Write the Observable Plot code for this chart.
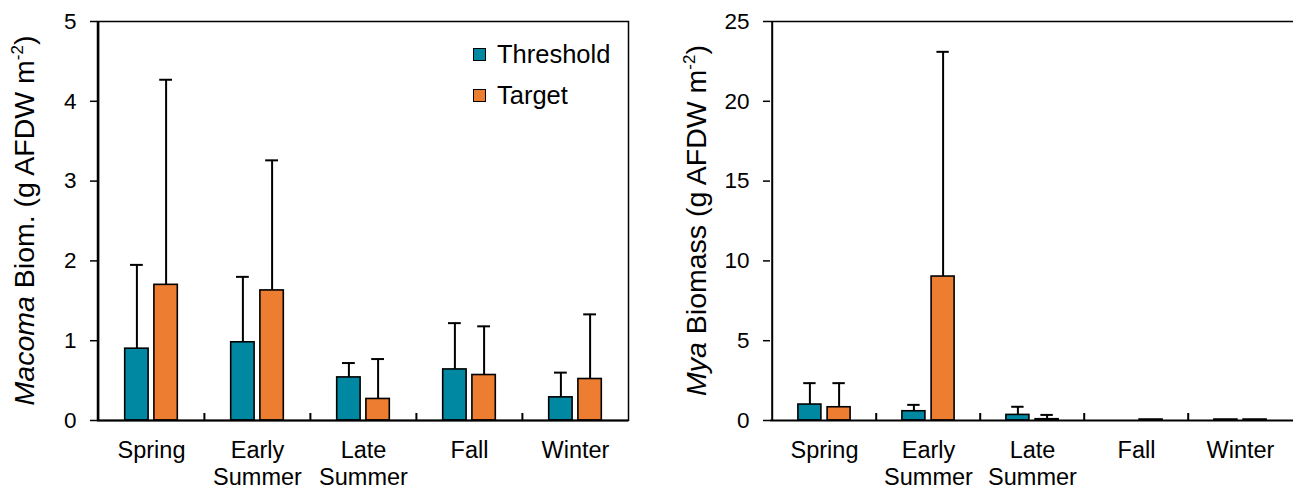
<!DOCTYPE html>
<html><head><meta charset="utf-8">
<script src="https://cdn.jsdelivr.net/npm/d3@7"></script>
<script src="https://cdn.jsdelivr.net/npm/@observablehq/plot@0.6"></script>
<style>
body{margin:0;background:#fff;font-family:Arial,"Liberation Sans",sans-serif;}
#wrap{position:relative;width:1296px;height:489px;display:flex;}
#wrap svg{display:block;}
.legend{position:absolute;left:473px;top:34px;font-size:25.5px;color:#000;}
.legend .row{display:flex;align-items:center;height:41px;}
.legend .sw{width:11px;height:11px;border:1.5px solid #000;margin-right:11px;}
</style></head><body><div id="wrap"></div>
<script>
const seasons = ["Spring","Early Summer","Late Summer","Fall","Winter"];
const seasonLabels = ["Spring","Early\nSummer","Late\nSummer","Fall","Winter"];
const series = ["Threshold","Target"];
const colors = ["#0088a3","#ed7d31"];

// Macoma biomass (g AFDW m-2): means and upper error (SD)
const macomaThreshold = [0.90, 0.98, 0.54, 0.64, 0.29];
const macomaThresholdErr = [1.05, 0.82, 0.18, 0.58, 0.31];
const macomaTarget = [1.70, 1.63, 0.27, 0.57, 0.52];
const macomaTargetErr = [2.57, 1.63, 0.50, 0.61, 0.81];

// Mya biomass (g AFDW m-2)
const myaThreshold = [1.00, 0.58, 0.35, 0.00, 0.06];
const myaThresholdErr = [1.34, 0.40, 0.51, null, null];
const myaTarget = [0.83, 9.02, 0.08, 0.06, 0.06];
const myaTargetErr = [1.51, 14.08, 0.27, null, null];

const macomaTicks = [0, 1, 2, 3, 4, 5];
const myaTicks = [0, 5, 10, 15, 20, 25];

const labelMap = Object.fromEntries(seasons.map((s, i) => [s, seasonLabels[i]]));

function chart({values, errs, ticks, width, marginLeft, marginRight, frame, labelItalic, labelRest, labelX}) {
  const height = 489, marginTop = 21, marginBottom = 69;
  const yMax = ticks[ticks.length - 1];
  const rows = [];
  seasons.forEach((s, i) => series.forEach((k, j) => rows.push({season: s, series: k, value: values[j][i], err: errs[j][i]})));
  const bw = (width - marginLeft - marginRight) / seasons.length;
  const pxPerUnit = (height - marginTop - marginBottom) / yMax;
  const off = [-14.6, 14.6];
  const half = 11.8;
  const marks = [];
  series.forEach((k, j) => {
    const d = rows.filter(r => r.series === k);
    const de = d.filter(r => r.err != null);
    const c = bw / 2 + off[j];
    marks.push(Plot.ruleX(de, {x: "season", y1: "value", y2: r => r.value + r.err, dx: off[j], stroke: "#000", strokeWidth: 2}));
    marks.push(Plot.tickY(de, {x: "season", y: r => r.value + r.err, insetLeft: c - 6.5, insetRight: bw - c - 6.5, stroke: "#000", strokeWidth: 2}));
    marks.push(Plot.barY(d, {x: "season", y: "value", fill: colors[j], stroke: "#000", strokeWidth: 1.6, insetLeft: c - half, insetRight: bw - c - half}));
  });
  // category boundary ticks
  marks.push(Plot.ruleX(seasons.slice(1), {x: d => d, dx: -bw / 2, y1: 0, y2: 7 / pxPerUnit, stroke: "#000", strokeWidth: 2}));
  if (frame) marks.push(Plot.frame({stroke: "#000", strokeWidth: 1.5}));
  else marks.push(Plot.ruleY([yMax], {stroke: "#000", strokeWidth: 1.5}));
  marks.push(Plot.ruleX([seasons[0]], {x: d => d, dx: -bw / 2, y1: 0, y2: yMax, stroke: "#000", strokeWidth: 2}));
  marks.push(Plot.ruleY([0], {stroke: "#000", strokeWidth: 2.2}));
  marks.push(Plot.axisY({ticks, tickSize: 7, tickPadding: 14, fontSize: 22.5, label: null, strokeWidth: 1.5, tickFormat: d3.format("d")}));
  marks.push(Plot.axisX({tickSize: 0, tickPadding: 18, fontSize: 23.5, lineHeight: 1.15, tickFormat: d => labelMap[d], label: null}));

  const p = Plot.plot({
    width, height, marginTop, marginBottom, marginLeft, marginRight,
    style: {fontFamily: "Arial, 'Liberation Sans', sans-serif", color: "#000", background: "#fff", overflow: "visible"},
    x: {type: "band", domain: seasons, padding: 0},
    y: {domain: [0, yMax]},
    marks
  });
  const svg = d3.select(p);
  const cy = (marginTop + height - marginBottom) / 2;
  const t = svg.append("text")
    .attr("transform", `translate(${labelX},${cy}) rotate(-90)`)
    .attr("text-anchor", "middle")
    .attr("font-size", 28.5)
    .attr("fill", "#000")
    .attr("font-family", "Arial, 'Liberation Sans', sans-serif");
  t.append("tspan").attr("font-style", "italic").text(labelItalic);
  t.append("tspan").text(labelRest + " (g AFDW m");
  t.append("tspan").attr("font-size", 17).attr("dy", -11).text("-2");
  t.append("tspan").attr("dy", 11).text(")");
  return p;
}

const wrap = document.getElementById("wrap");
wrap.appendChild(chart({
  values: [macomaThreshold, macomaTarget], errs: [macomaThresholdErr, macomaTargetErr],
  ticks: macomaTicks, width: 640, marginLeft: 97, marginRight: 12, frame: true,
  labelItalic: "Macoma", labelRest: " Biom.", labelX: 34
}));
wrap.appendChild(chart({
  values: [myaThreshold, myaTarget], errs: [myaThresholdErr, myaTargetErr],
  ticks: myaTicks, width: 656, marginLeft: 130, marginRight: 3, frame: false,
  labelItalic: "Mya", labelRest: " Biomass", labelX: 66
}));

const legend = document.createElement("div");
legend.className = "legend";
series.forEach((s, j) => {
  const row = document.createElement("div");
  row.className = "row";
  const sw = document.createElement("div");
  sw.className = "sw";
  sw.style.background = colors[j];
  const lab = document.createElement("span");
  lab.textContent = s;
  row.appendChild(sw); row.appendChild(lab);
  legend.appendChild(row);
});
wrap.appendChild(legend);
</script>
</body></html>
